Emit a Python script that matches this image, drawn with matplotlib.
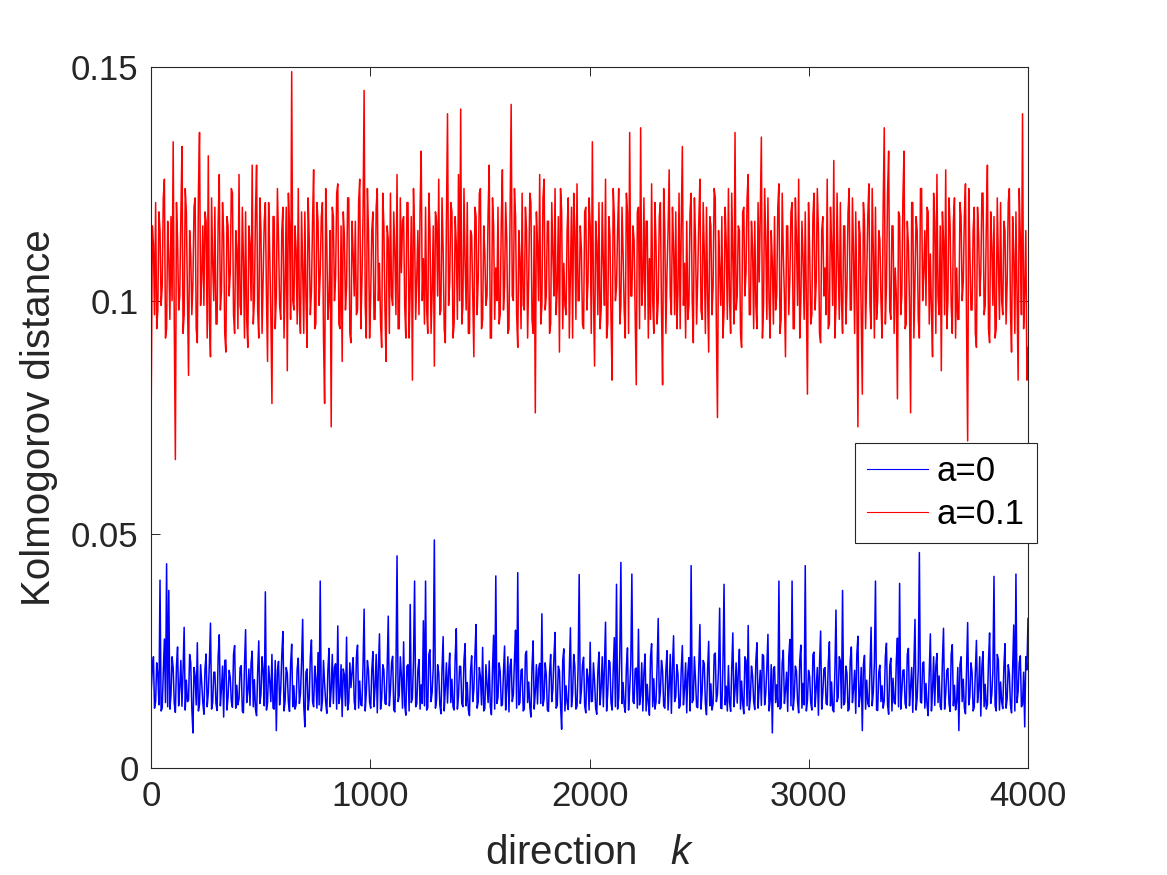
import numpy as np
import matplotlib
matplotlib.use('Agg')
import matplotlib.pyplot as plt

# Kolmogorov distance per direction.
# *_vals are sampled every 10 directions, *_mid are the samples in between.
# red series (a=0.1) in units of 1e-3
red_vals = [
    78, 112, 121, 98, 115, 103, 126, 94, 109, 118, 134, 66, 113, 101, 133, 97, 119, 84, 110, 104,
    122, 91, 136, 105, 99, 117, 131, 88, 108, 120, 95, 127, 102, 114, 89, 116, 106, 123, 93, 111,
    127, 97, 109, 119, 90, 112, 129, 100, 129, 92, 115, 105, 121, 87, 110, 78, 118, 101, 113, 96,
    120, 104, 85, 116, 149, 98, 111, 124, 93, 107, 119, 90, 113, 102, 128, 95, 117, 106, 121, 78,
    112, 100, 73, 118, 105, 125, 94, 87, 114, 103, 122, 91, 110, 117, 98, 126, 104, 145, 92, 115,
    101, 119, 96, 124, 108, 90, 116, 87, 113, 123, 99, 110, 127, 94, 106, 118, 92, 121, 103, 83,
    114, 105, 97, 132, 109, 120, 93, 115, 102, 86, 117, 126, 98, 111, 91, 140, 104, 119, 95, 112,
    127, 141, 99, 108, 121, 93, 114, 88, 118, 105, 124, 96, 110, 101, 129, 92, 116, 107, 120, 97,
    128, 103, 113, 94, 142, 100, 118, 90, 109, 123, 98, 115, 105, 121, 93, 76, 112, 127, 99, 126,
    101, 117, 95, 110, 124, 103, 89, 119, 108, 97, 122, 106, 92, 115, 125, 100, 111, 94, 120, 104,
    116, 134, 86, 112, 121, 98, 108, 126, 95, 114, 83, 118, 103, 124, 99, 110, 92, 119, 136, 101,
    113, 82, 120, 137, 104, 96, 117, 109, 125, 93, 112, 100, 121, 82, 115, 106, 128, 97, 111, 119,
    102, 94, 133, 108, 117, 99, 123, 91, 113, 105, 126, 96, 110, 120, 89, 116, 103, 122, 75, 107,
    118, 98, 112, 124, 93, 109, 136, 101, 115, 90, 120, 106, 127, 97, 111, 117, 94, 104, 135, 99,
    113, 122, 92, 108, 118, 101, 125, 96, 110, 88, 116, 105, 121, 94, 113, 126, 100, 109, 119, 80,
    111, 97, 123, 104, 115, 91, 118, 107, 126, 95, 112, 130, 99, 108, 121, 93, 116, 103, 124, 98,
    110, 119, 73, 114, 80, 117, 105, 125, 94, 111, 120, 100, 113, 92, 137, 103, 132, 96, 116, 107,
    79, 118, 101, 132, 95, 112, 76, 121, 104, 115, 92, 124, 106, 99, 119, 110, 88, 117, 127, 97,
    85, 113, 128, 100, 116, 93, 122, 107, 96, 118, 104, 125, 70, 111, 98, 120, 90, 114, 106, 123,
    99, 129, 91, 112, 118, 94, 108, 121, 97, 115, 104, 124, 89, 110, 119, 83, 113, 140, 102, 83,
]
red_mid = [
    116, 97, 94, 119, 99, 122, 92, 117, 96, 100, 95, 121, 98, 118, 93, 124, 101, 115, 97, 120,
    94, 123, 99, 116, 119, 92, 96, 122, 100, 95, 117, 98, 121, 93, 118, 101, 124, 97, 115, 94,
    99, 120, 92, 96, 116, 100, 95, 119, 98, 122, 93, 117, 101, 121, 97, 118, 94, 124, 99, 115,
    92, 120, 123, 96, 100, 116, 95, 98, 119, 93, 101, 122, 97, 117, 94, 121, 99, 118, 92, 124,
    96, 115, 120, 100, 123, 95, 116, 119, 98, 122, 93, 117, 101, 97, 121, 94, 118, 99, 124, 92,
    115, 96, 120, 100, 95, 123, 98, 116, 93, 101, 119, 97, 94, 122, 117, 99, 121, 92, 118, 124,
    96, 115, 120, 100, 95, 98, 123, 93, 116, 119, 101, 97, 122, 94, 117, 99, 121, 92, 118, 96,
    100, 95, 124, 98, 93, 115, 101, 120, 97, 123, 94, 116, 99, 119, 92, 122, 96, 100, 95, 117,
    98, 121, 93, 118, 101, 124, 97, 115, 94, 99, 120, 92, 123, 96, 116, 119, 100, 95, 122, 98,
    117, 93, 121, 101, 97, 118, 124, 94, 99, 115, 92, 120, 123, 96, 100, 116, 95, 119, 98, 122,
    93, 101, 117, 97, 94, 121, 99, 92, 118, 96, 124, 100, 115, 95, 120, 98, 123, 93, 101, 116,
    97, 119, 94, 99, 122, 117, 92, 96, 100, 121, 95, 118, 98, 124, 93, 115, 101, 120, 97, 94,
    123, 116, 99, 92, 96, 119, 100, 122, 95, 117, 98, 121, 93, 101, 118, 97, 124, 94, 115, 99,
    92, 120, 96, 100, 123, 95, 98, 116, 93, 119, 101, 122, 97, 117, 94, 99, 121, 118, 92, 124,
    96, 100, 115, 95, 98, 120, 93, 123, 101, 116, 97, 119, 94, 122, 99, 92, 117, 96, 100, 121,
    95, 118, 98, 124, 93, 115, 101, 97, 94, 120, 99, 92, 123, 96, 100, 116, 95, 119, 98, 122,
    93, 101, 117, 97, 121, 94, 118, 99, 124, 92, 96, 115, 100, 120, 95, 123, 98, 116, 93, 101,
    119, 97, 122, 94, 117, 99, 121, 92, 118, 96, 124, 100, 115, 120, 95, 98, 123, 93, 101, 116,
    119, 97, 94, 122, 99, 117, 92, 96, 121, 100, 118, 95, 124, 98, 115, 93, 120, 101, 123, 97,
    116, 94, 119, 99, 92, 122, 96, 100, 117, 95, 121, 98, 118, 93, 101, 124, 97, 94, 115, 90,
]
# blue series (a=0) in units of 1e-4
blue_vals = [
    165, 238, 142, 201, 402, 128, 276, 437, 380, 156, 214, 119, 259, 173, 132, 301, 188, 145, 226, 75,
    197, 268, 136, 182, 115, 244, 161, 310, 140, 205, 123, 285, 170, 109, 231, 152, 194, 130, 262, 177,
    148, 219, 118, 296, 163, 134, 250, 189, 112, 272, 158, 207, 377, 139, 185, 243, 126, 80, 228, 167,
    292, 143, 203, 121, 265, 176, 135, 235, 159, 318, 88, 212, 150, 274, 131, 191, 247, 400, 144, 180,
    117, 256, 168, 138, 223, 304, 153, 110, 199, 280, 141, 172, 236, 125, 263, 186, 133, 340, 160, 208,
    128, 249, 174, 118, 287, 147, 210, 136, 325, 166, 239, 120, 454, 155, 196, 270, 113, 221, 350, 149,
    400, 137, 232, 178, 315, 400, 129, 253, 162, 488, 145, 204, 116, 281, 171, 139, 246, 190, 124, 298,
    154, 217, 131, 266, 183, 112, 240, 167, 307, 142, 195, 258, 127, 178, 229, 114, 284, 411, 151, 206,
    135, 261, 173, 120, 233, 157, 295, 418, 140, 212, 126, 250, 184, 109, 272, 163, 137, 224, 330, 148,
    199, 121, 243, 169, 290, 134, 208, 83, 255, 176, 125, 300, 158, 218, 132, 414, 165, 237, 118, 193,
    269, 143, 187, 115, 248, 172, 131, 312, 160, 226, 124, 279, 393, 150, 440, 183, 119, 257, 168, 415,
    138, 214, 297, 156, 122, 244, 179, 113, 266, 191, 141, 320, 164, 208, 128, 251, 174, 117, 283, 152,
    201, 133, 262, 170, 118, 236, 433, 146, 189, 129, 307, 161, 223, 114, 271, 180, 137, 246, 158, 342,
    127, 393, 175, 219, 121, 289, 166, 139, 254, 186, 116, 230, 305, 149, 198, 125, 268, 171, 134, 240,
    159, 286, 143, 75, 217, 178, 400, 130, 252, 167, 121, 275, 400, 154, 207, 118, 263, 181, 433, 145,
    196, 124, 248, 172, 113, 293, 160, 215, 135, 270, 184, 120, 338, 151, 229, 380, 140, 203, 126, 259,
    169, 117, 282, 155, 80, 241, 188, 131, 301, 162, 400, 123, 220, 176, 144, 267, 115, 235, 192, 137,
    278, 395, 163, 210, 128, 256, 174, 119, 318, 150, 461, 139, 227, 181, 112, 287, 166, 134, 245, 197,
    125, 299, 158, 213, 121, 264, 177, 142, 80, 238, 190, 116, 311, 153, 205, 130, 273, 168, 111, 249,
    179, 136, 289, 157, 410, 122, 231, 184, 127, 266, 148, 202, 118, 306, 415, 164, 240, 135, 88, 210,
]
blue_mid = [
    212, 128, 225, 135, 122, 205, 140, 131, 126, 238, 138, 218, 133, 230, 209, 124, 142, 243, 128, 215,
    135, 122, 221, 140, 212, 131, 225, 126, 205, 138, 238, 133, 218, 230, 124, 209, 142, 243, 128, 135,
    215, 122, 221, 140, 212, 225, 131, 126, 205, 138, 238, 133, 124, 218, 142, 128, 230, 209, 135, 243,
    122, 215, 140, 221, 131, 126, 212, 138, 225, 133, 205, 124, 238, 142, 218, 128, 135, 122, 230, 140,
    209, 131, 243, 215, 126, 138, 221, 212, 133, 124, 225, 205, 142, 238, 128, 135, 218, 122, 230, 140,
    209, 131, 243, 215, 126, 221, 138, 212, 133, 225, 124, 205, 142, 238, 128, 135, 218, 122, 140, 230,
    131, 209, 126, 138, 133, 124, 243, 142, 215, 128, 221, 135, 212, 122, 225, 205, 140, 131, 238, 126,
    218, 138, 230, 133, 124, 209, 142, 243, 128, 215, 135, 122, 221, 140, 131, 212, 126, 138, 225, 133,
    205, 124, 238, 218, 142, 230, 128, 135, 209, 122, 243, 140, 131, 215, 126, 221, 212, 138, 133, 225,
    124, 205, 142, 238, 128, 218, 135, 230, 122, 140, 209, 131, 243, 126, 215, 138, 221, 133, 212, 124,
    142, 225, 128, 205, 135, 238, 218, 122, 230, 140, 209, 131, 126, 243, 138, 133, 215, 124, 221, 142,
    212, 128, 135, 225, 205, 122, 140, 238, 131, 126, 218, 138, 230, 133, 209, 124, 243, 215, 142, 221,
    128, 212, 135, 225, 205, 122, 140, 238, 131, 218, 126, 230, 138, 209, 133, 124, 243, 142, 215, 128,
    221, 135, 122, 140, 212, 131, 225, 205, 126, 138, 238, 133, 124, 218, 142, 230, 128, 209, 243, 135,
    215, 122, 221, 212, 140, 131, 126, 225, 138, 205, 238, 133, 124, 218, 142, 230, 128, 135, 122, 209,
    140, 243, 131, 215, 221, 126, 212, 138, 225, 133, 124, 205, 142, 238, 128, 135, 218, 122, 230, 140,
    209, 243, 131, 215, 221, 126, 138, 212, 133, 225, 124, 205, 142, 128, 238, 135, 218, 122, 140, 230,
    131, 126, 209, 138, 243, 133, 215, 221, 124, 212, 142, 225, 128, 135, 205, 122, 238, 218, 140, 131,
    230, 126, 209, 138, 243, 133, 124, 215, 221, 142, 128, 212, 135, 225, 122, 205, 140, 238, 218, 131,
    126, 230, 138, 209, 133, 243, 124, 142, 215, 128, 221, 135, 212, 122, 140, 225, 131, 205, 238, 320,
]

# interleave the two sample sets into one series of 800 directions
red = np.column_stack([red_vals, red_mid]).ravel() / 1000.0
blue = np.column_stack([blue_vals, blue_mid]).ravel() / 10000.0
k = np.linspace(1, 4000, len(red))

ink = '#262626'
plt.rcParams['font.family'] = ['Liberation Sans', 'DejaVu Sans']
plt.rcParams['mathtext.fontset'] = 'custom'
plt.rcParams['mathtext.it'] = 'Liberation Sans:italic'
plt.rcParams['mathtext.rm'] = 'Liberation Sans'
plt.rcParams['path.simplify'] = False

fig = plt.figure(figsize=(11.67, 8.75), dpi=100)
ax = fig.add_axes([0.1294, 0.1223, 0.7515, 0.8011])

ax.plot(k, blue, color='#0000ff', linewidth=1.1, label='a=0')
ax.plot(k, red, color='#ff0000', linewidth=1.1, label='a=0.1')

ax.set_xlim(0, 4000)
ax.set_ylim(0, 0.15)
ax.set_xticks([0, 1000, 2000, 3000, 4000])
ax.set_yticks([0, 0.05, 0.1, 0.15])
ax.set_yticklabels(['0', '0.05', '0.1', '0.15'])
ax.tick_params(direction='in', length=6.3, width=0.7, colors=ink,
               labelsize=25, pad=9, top=True, right=True)
for s in ax.spines.values():
    s.set_color(ink)
    s.set_linewidth(0.8)

ax.set_xlabel('direction   $k$', fontsize=29, color=ink, labelpad=15)
ax.set_ylabel('Kolmogorov distance', fontsize=29, color=ink, labelpad=9)

leg = ax.legend(loc='upper right', bbox_to_anchor=(1.010, 0.464), borderaxespad=0,
                fontsize=25, fancybox=False, edgecolor=ink, framealpha=1,
                handlelength=1.75, handletextpad=0.25, labelspacing=0.3, borderpad=0.35)
leg.get_frame().set_linewidth(0.8)
for line in leg.get_lines():
    line.set_linewidth(0.8)
leg.set_zorder(5)

fig.savefig('out.png', dpi=100)
